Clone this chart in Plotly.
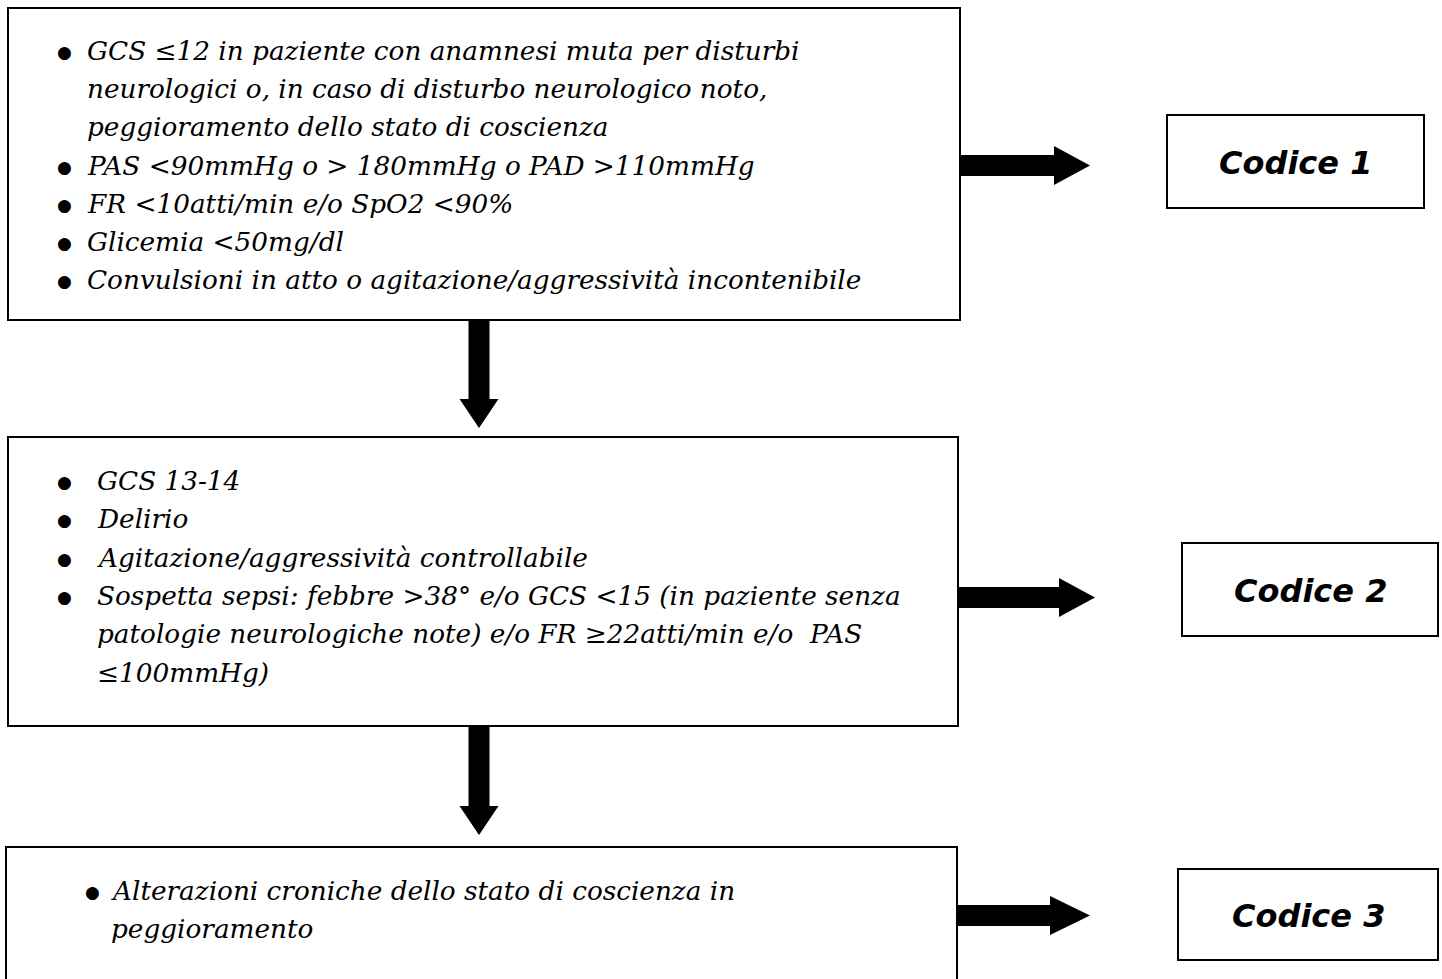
import plotly.graph_objects as go

W, H = 1442, 979

# ---- content ----
box1_items = [
    ["GCS ≤12 in paziente con anamnesi muta per disturbi",
     "neurologici o, in caso di disturbo neurologico noto,",
     "peggioramento dello stato di coscienza"],
    ["PAS <90mmHg o > 180mmHg o PAD >110mmHg"],
    ["FR <10atti/min e/o SpO2 <90%"],
    ["Glicemia <50mg/dl"],
    ["Convulsioni in atto o agitazione/aggressività incontenibile"],
]
box2_items = [
    ["GCS 13-14"],
    ["Delirio"],
    ["Agitazione/aggressività controllabile"],
    ["Sospetta sepsi: febbre >38° e/o GCS <15 (in paziente senza",
     "patologie neurologiche note) e/o FR ≥22atti/min e/o  PAS",
     "≤100mmHg)"],
]
box3_items = [
    ["Alterazioni croniche dello stato di coscienza in",
     "peggioramento"],
]
codes = ["Codice 1", "Codice 2", "Codice 3"]

# ---- layout geometry (page pixels) ----
main_boxes = [  # x0, y0, x1, y1
    (8, 8, 960, 320),
    (8, 437, 958, 726),
    (6, 847, 957, 995),
]
text_layout = [  # bullet x, text x, first line center y, line spacing
    (64, 85, 51, 38.2),
    (64, 95, 481, 38.3),
    (92, 109, 891, 38.3),
]
code_boxes = [
    (1167, 115, 1424, 208),
    (1182, 543, 1438, 636),
    (1178, 869, 1438, 960),
]
h_arrows = [  # x start, head start, tip, center y
    (960, 1054, 1090, 165.5),
    (958, 1059, 1095, 597.5),
    (957, 1050, 1090, 915.5),
]
v_arrows = [  # center x, y start, head start, tip
    (479, 320, 399, 428),
    (479, 726, 806, 835),
]
SHAFT = 10.5
HEAD = 19.5

TEXT_FONT = dict(family="DejaVu Serif", size=26.3, color="black", style="italic")
CODE_FONT = dict(family="DejaVu Sans", size=32, color="black", style="italic", weight="bold")

fig = go.Figure()
shapes = []
annotations = []

for (x0, y0, x1, y1) in main_boxes + code_boxes:
    shapes.append(dict(type="rect", x0=x0, y0=y0, x1=x1, y1=y1,
                       line=dict(color="black", width=2), fillcolor="rgba(0,0,0,0)",
                       layer="below"))

for (xs, xh, xt, yc) in h_arrows:
    path = (f"M {xs},{yc-SHAFT} L {xh},{yc-SHAFT} L {xh},{yc-HEAD} L {xt},{yc} "
            f"L {xh},{yc+HEAD} L {xh},{yc+SHAFT} L {xs},{yc+SHAFT} Z")
    shapes.append(dict(type="path", path=path, fillcolor="black", line=dict(width=0)))

for (xc, ys, yh, yt) in v_arrows:
    path = (f"M {xc-SHAFT},{ys} L {xc-SHAFT},{yh} L {xc-HEAD},{yh} L {xc},{yt} "
            f"L {xc+HEAD},{yh} L {xc+SHAFT},{yh} L {xc+SHAFT},{ys} Z")
    shapes.append(dict(type="path", path=path, fillcolor="black", line=dict(width=0)))

for items, (bx, tx, y0, dy) in zip([box1_items, box2_items, box3_items], text_layout):
    k = 0
    for item in items:
        for j, line in enumerate(item):
            y = y0 + k * dy
            if j == 0:
                annotations.append(dict(x=bx, y=y + 1, text="●", showarrow=False,
                                        xanchor="center", yanchor="middle",
                                        font=dict(family="DejaVu Sans", size=17, color="black")))
            annotations.append(dict(x=tx, y=y, text=line, showarrow=False,
                                    xanchor="left", yanchor="middle", font=TEXT_FONT))
            k += 1

for label, (x0, y0, x1, y1) in zip(codes, code_boxes):
    annotations.append(dict(x=(x0 + x1) / 2, y=(y0 + y1) / 2 + 1, text=label, showarrow=False,
                            xanchor="center", yanchor="middle", font=CODE_FONT))

fig.update_layout(
    width=W, height=H,
    margin=dict(l=0, r=0, t=0, b=0),
    paper_bgcolor="white", plot_bgcolor="white",
    xaxis=dict(range=[0, W], visible=False, fixedrange=True),
    yaxis=dict(range=[H, 0], visible=False, fixedrange=True),
    shapes=shapes, annotations=annotations,
    showlegend=False,
)

# remove the default page margin and scrollbars so the figure fills the window exactly
page_js = ("document.body.style.margin='0';"
           "document.body.style.overflow='hidden';"
           "document.documentElement.style.overflow='hidden';")

fig.write_html("out.html", config={"displayModeBar": False}, post_script=page_js)
